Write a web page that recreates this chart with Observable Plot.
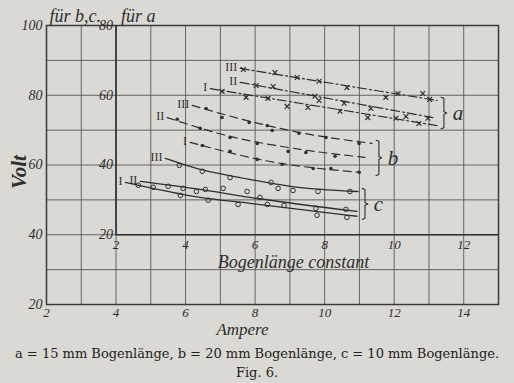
<!DOCTYPE html>
<html><head><meta charset="utf-8">
<script src="https://cdn.jsdelivr.net/npm/d3@7"></script>
<script src="https://cdn.jsdelivr.net/npm/@observablehq/plot@0.6"></script>
<style>
html,body{margin:0;padding:0;background:#dbd9d3;}
#chart svg{display:block;}
#cap{font-family:"DejaVu Serif",serif;font-size:13px;color:#222;text-align:center;line-height:19px;width:514px;padding-top:0;}
</style></head><body>
<div id="chart"></div>
<div id="cap"><div>a = 15 mm Bogenlänge, b = 20 mm Bogenlänge, c = 10 mm Bogenlänge.</div><div>Fig. 6.</div></div>
<script>
// Outer axes (Ampere / Volt für b, c)
const outerXTicks = [2, 4, 6, 8, 10, 12, 14];
const outerYTicks = [20, 40, 60, 80, 100];
// Inner axes (Bogenlänge constant / Volt für a)
const innerXTicks = [2, 4, 6, 8, 10, 12];
const innerYTicks = [20, 40, 60, 80];
const X_OFF = 2;   // inner ampere 2 sits at outer ampere 4
const A_OFF = 20;  // "für a" scale is 20 V below the "für b,c" scale

// Values read on the inner "Bogenlänge constant" ampere axis.
// a: volts on the "für a" scale, b and c: volts on the "für b,c" scale.
// a = 15 mm (crosses, dash-dot lines)
const aI_ptsA  = [5.05, 5.74, 6.37, 6.92, 7.52, 8.44, 9.24, 10.05, 10.71];
const aI_ptsV  = [61.1, 59.4, 59.1, 56.8, 56.5, 55.4, 53.6, 53.4, 51.9];
const aI_fitA  = [4.71, 11.23];
const aI_fitV  = [61.9, 51.3];
const aII_ptsA = [6.03, 6.52, 7.72, 7.84, 8.56, 9.33, 10.34, 10.97];
const aII_ptsV = [62.8, 62.5, 59.7, 58.5, 57.7, 56.2, 53.9, 53.4];
const aII_fitA = [5.57, 11.11];
const aII_fitV = [63.7, 53.6];
const aIII_ptsA = [5.66, 6.57, 7.21, 7.84, 8.64, 9.76, 10.11, 10.82, 11.02];
const aIII_ptsV = [67.4, 66.5, 65.1, 64.0, 62.2, 59.4, 60.5, 60.5, 58.8];
const aIII_fitA = [5.57, 11.23];
const aIII_fitV = [67.7, 58.5];
// b = 20 mm (dots, dashed lines)
const bI_ptsA  = [4.48, 5.28, 6.06, 6.78, 7.67, 8.18, 8.99];
const bI_ptsV  = [65.6, 63.9, 61.6, 60.2, 59.0, 59.0, 57.9];
const bI_fitA  = [4.13, 6.43, 9.02];
const bI_fitV  = [66.5, 61.0, 57.9];
const bII_ptsA = [3.76, 4.42, 5.28, 6.06, 6.95, 7.46, 8.30];
const bII_ptsV = [73.1, 70.5, 67.9, 66.2, 63.9, 63.6, 62.5];
const bII_fitA = [3.47, 5.28, 7.29, 9.16];
const bII_fitV = [73.6, 68.2, 64.5, 62.2];
const bIII_ptsA = [4.59, 5.05, 5.83, 6.35, 6.49, 7.26, 8.04, 8.99];
const bIII_ptsV = [76.2, 73.6, 72.2, 71.3, 69.9, 69.1, 67.9, 66.2];
const bIII_fitA = [4.19, 5.86, 7.29, 9.36];
const bIII_fitV = [77.1, 72.5, 69.3, 66.2];
// c = 10 mm (open circles, solid lines)
const cI_ptsA  = [2.64, 3.07, 3.85, 4.65, 5.51, 6.35, 6.83, 7.78, 8.64];
const cI_ptsV  = [54.2, 53.6, 51.3, 49.9, 48.7, 48.7, 48.4, 45.6, 45.0];
const cI_fitA  = [2.27, 4.42, 5.86, 8.93];
const cI_fitV  = [55.0, 50.7, 49.0, 45.3];
const cII_ptsA = [3.50, 3.93, 4.31, 4.57, 5.08, 5.77, 6.14, 7.75, 8.61];
const cII_ptsV = [53.9, 53.3, 52.4, 53.0, 53.3, 52.4, 50.7, 47.6, 47.3];
const cII_fitA = [2.70, 4.42, 5.86, 8.93];
const cII_fitV = [55.3, 53.0, 50.7, 46.7];
const cIII_ptsA = [3.82, 4.48, 5.28, 6.46, 6.66, 7.09, 7.81, 8.73];
const cIII_ptsV = [59.9, 58.2, 56.4, 55.0, 53.3, 52.7, 52.4, 52.4];
const cIII_fitA = [3.42, 4.51, 5.57, 7.01, 8.96];
const cIII_fitV = [61.9, 58.5, 56.4, 53.9, 52.4];

const series = [
  {g: "a", n: "I",   pA: aI_ptsA,   pV: aI_ptsV,   fA: aI_fitA,   fV: aI_fitV},
  {g: "a", n: "II",  pA: aII_ptsA,  pV: aII_ptsV,  fA: aII_fitA,  fV: aII_fitV},
  {g: "a", n: "III", pA: aIII_ptsA, pV: aIII_ptsV, fA: aIII_fitA, fV: aIII_fitV},
  {g: "b", n: "I",   pA: bI_ptsA,   pV: bI_ptsV,   fA: bI_fitA,   fV: bI_fitV},
  {g: "b", n: "II",  pA: bII_ptsA,  pV: bII_ptsV,  fA: bII_fitA,  fV: bII_fitV},
  {g: "b", n: "III", pA: bIII_ptsA, pV: bIII_ptsV, fA: bIII_fitA, fV: bIII_fitV},
  {g: "c", n: "I",   pA: cI_ptsA,   pV: cI_ptsV,   fA: cI_fitA,   fV: cI_fitV},
  {g: "c", n: "II",  pA: cII_ptsA,  pV: cII_ptsV,  fA: cII_fitA,  fV: cII_fitV},
  {g: "c", n: "III", pA: cIII_ptsA, pV: cIII_ptsV, fA: cIII_fitA, fV: cIII_fitV}
];
const vOff = g => g === "a" ? A_OFF : 0;
const pts = series.flatMap(s => s.pA.map((a, i) => ({g: s.g, key: s.g + s.n, x: a + X_OFF, y: s.pV[i] + vOff(s.g)})));
const fits = series.flatMap(s => s.fA.map((a, i) => ({g: s.g, key: s.g + s.n, x: a + X_OFF, y: s.fV[i] + vOff(s.g)})));
const labels = series.map(s => ({n: s.n, x: s.fA[0] + X_OFF, y: s.fV[0] + vOff(s.g)}));

// braces to the right of each group, spanning the line ends
const braces = [];
const braceLetters = [];
for (const g of ["a", "b", "c"]) {
  const ends = series.filter(s => s.g === g).map(s => ({x: s.fA[s.fA.length - 1] + X_OFF, y: s.fV[s.fV.length - 1] + vOff(g)}));
  const x0 = d3.max(ends, e => e.x) + 0.12;
  const top = d3.max(ends, e => e.y) + 0.6, bot = d3.min(ends, e => e.y) - 0.6, mid = (top + bot) / 2;
  const w = 0.08;
  [[x0, top + 0.3], [x0 + w, top], [x0 + w, mid + 0.4], [x0 + 2 * w, mid], [x0 + w, mid - 0.4], [x0 + w, bot], [x0, bot - 0.3]]
    .forEach(([x, y]) => braces.push({g, x, y}));
  braceLetters.push({g, x: x0 + 2 * w, y: mid});
}

const ink = "#2e2e2e";
const hand = "'Liberation Serif', 'DejaVu Serif', serif";
const byG = g => d => d.g === g;

const plot = Plot.plot({
  width: 514, height: 344,
  marginLeft: 46, marginRight: 16, marginTop: 25, marginBottom: 40,
  x: {domain: [2, 15]},
  y: {domain: [20, 100]},
  style: {background: "transparent", color: ink, fontFamily: hand, fontSize: "13px"},
  marks: [
    Plot.gridX(d3.range(2, 16), {stroke: "#505050", strokeOpacity: 0.85, strokeWidth: 1}),
    Plot.gridY(d3.range(20, 101, 10), {stroke: "#505050", strokeOpacity: 0.85, strokeWidth: 1}),
    Plot.frame({stroke: "#3a3a3a", strokeWidth: 1.5}),
    Plot.ruleX([innerXTicks[0] + X_OFF], {y1: innerYTicks[0] + A_OFF, y2: 100, stroke: "#333", strokeWidth: 1.7}),
    Plot.ruleY([innerYTicks[0] + A_OFF], {x1: innerXTicks[0] + X_OFF, x2: 15, stroke: "#333", strokeWidth: 1.7}),
    Plot.axisX(outerXTicks, {tickSize: 0, tickPadding: 3, fontSize: 13, fontStyle: "italic", label: null}),
    Plot.axisY(outerYTicks, {tickSize: 0, tickPadding: 4, fontSize: 14, fontStyle: "italic", label: null}),
    Plot.text(innerXTicks, {x: d => d + X_OFF, y: innerYTicks[0] + A_OFF, text: d => String(d), dy: 10, fontSize: 13, fontStyle: "italic"}),
    Plot.text(innerYTicks, {x: innerXTicks[0] + X_OFF, y: d => d + A_OFF, text: d => String(d), dx: -3, textAnchor: "end", fontSize: 14, fontStyle: "italic"}),
    Plot.text(["für b,c."], {x: outerXTicks[0], y: 100, dx: 3, dy: -9, textAnchor: "start", fontSize: 18, fontStyle: "italic"}),
    Plot.text(["für a"], {x: innerXTicks[0] + X_OFF, y: 100, dx: 5, dy: -9, textAnchor: "start", fontSize: 18, fontStyle: "italic"}),
    Plot.text(["Volt"], {frameAnchor: "left", dx: -27, dy: 24, rotate: -90, fontSize: 21, fontStyle: "italic", fontWeight: "bold"}),
    Plot.text(["Bogenlänge constant"], {frameAnchor: "bottom", dx: 21, dy: -37, fontSize: 18, fontStyle: "italic"}),
    Plot.text(["Ampere"], {frameAnchor: "bottom", dx: -30, dy: 30, fontSize: 17, fontStyle: "italic"}),
    // fitted curves
    Plot.line(fits.filter(byG("a")), {x: "x", y: "y", z: "key", stroke: ink, strokeWidth: 1.2, strokeDasharray: "9,3,2,3"}),
    Plot.line(fits.filter(byG("b")), {x: "x", y: "y", z: "key", stroke: ink, strokeWidth: 1.2, strokeDasharray: "8,5", curve: "monotone-x"}),
    Plot.line(fits.filter(byG("c")), {x: "x", y: "y", z: "key", stroke: ink, strokeWidth: 1.3, curve: "monotone-x"}),
    // measured points
    Plot.dot(pts.filter(byG("a")), {x: "x", y: "y", symbol: "times", r: 2.3, stroke: ink, strokeWidth: 1.2}),
    Plot.dot(pts.filter(byG("b")), {x: "x", y: "y", r: 1.8, fill: ink, stroke: "none"}),
    Plot.dot(pts.filter(byG("c")), {x: "x", y: "y", r: 2.3, stroke: ink, fill: "none", strokeWidth: 1}),
    // curve numerals
    Plot.text(labels, {x: "x", y: "y", text: "n", dx: -3, dy: -1, textAnchor: "end", fontSize: 12, fontFamily: "'Liberation Serif', serif"}),
    // braces
    Plot.line(braces, {x: "x", y: "y", z: "g", stroke: ink, strokeWidth: 1.1}),
    Plot.text(braceLetters, {x: "x", y: "y", text: "g", dx: 6, textAnchor: "start", fontSize: 21, fontStyle: "italic"})
  ]
});
document.getElementById("chart").appendChild(plot);
</script></body></html>
